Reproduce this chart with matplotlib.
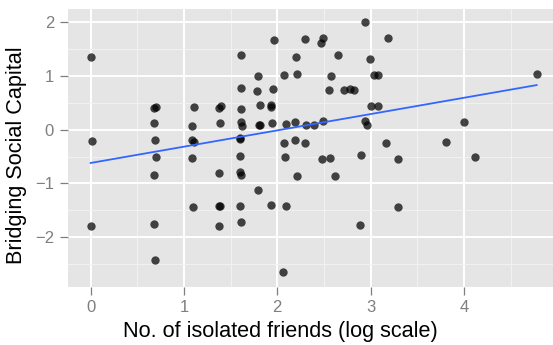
import numpy as np
import matplotlib
matplotlib.use("Agg")
import matplotlib.pyplot as plt
from matplotlib.ticker import MultipleLocator

plt.rcParams['font.family'] = ['Liberation Sans', 'DejaVu Sans']

isolated_log = [
    0.00, 0.01, 0.00,
    0.68, 0.70, 0.68, 0.69, 0.70, 0.68, 0.68, 0.69,
    1.11, 1.09, 1.09, 1.11, 1.09, 1.10,
    1.375, 1.40, 1.39, 1.37, 1.37, 1.39, 1.38,
    1.61, 1.61, 1.61, 1.61, 1.62, 1.60, 1.60, 1.60, 1.60, 1.61, 1.60, 1.61,
    1.79, 1.78, 1.81, 1.80, 1.81, 1.79,
    1.96, 1.95, 1.93, 1.93, 1.94, 1.93,
    2.07, 2.09, 2.07, 2.08, 2.09, 2.06,
    2.20, 2.21, 2.19, 2.19, 2.21,
    2.30, 2.31, 2.30, 2.39,
    2.49, 2.47, 2.49, 2.48, 2.56, 2.58, 2.55, 2.65, 2.62,
    2.71, 2.78, 2.82, 2.90, 2.89,
    2.94, 2.94, 2.96, 2.99, 3.04, 3.08, 3.00, 3.08,
    3.19, 3.16, 3.29, 3.29,
    3.81, 4.00, 4.12, 4.78,
]
bridging = [
    1.35, -0.21, -1.80,
    0.40, 0.42, 0.12, -0.20, -0.50, -0.85, -1.75, -2.42,
    0.42, 0.07, -0.19, -0.22, -0.52, -1.44,
    0.40, 0.44, 0.13, -0.80, -1.43, -1.43, -1.79,
    1.40, 0.78, 0.39, 0.14, 0.06, -0.15, -0.17, -0.49, -0.79, -0.84, -1.42, -1.72,
    1.00, 0.72, 0.46, 0.08, 0.09, -1.13,
    1.67, 0.76, 0.46, 0.42, 0.12, -1.40,
    1.02, 0.10, -0.24, -0.50, -1.43, -2.65,
    1.35, 1.04, 0.14, -0.19, -0.86,
    1.69, 0.08, -0.25, 0.09,
    1.70, 1.62, 0.16, -0.54, -0.53, 1.00, 0.74, 1.40, -0.86,
    0.74, 0.75, 0.74, -0.48, -1.77,
    2.00, 0.16, 0.09, 1.32, 1.02, 1.02, 0.45, 0.44,
    1.70, -0.25, -0.55, -1.44,
    -0.22, 0.14, -0.50, 1.04,
]
x_ticks = [0, 1, 2, 3, 4]
y_ticks = [-2, -1, 0, 1, 2]

x = np.array(isolated_log)
y = np.array(bridging)

W, H = 553, 345
fig = plt.figure(figsize=(W / 100, H / 100), dpi=100)
ax = fig.add_axes([68 / W, 1 - 286.5 / H, (553 - 68) / W, (286.5 - 9) / H])
ax.set_facecolor('#E5E5E5')

ax.scatter(x, y, s=36, color='black', alpha=0.72, linewidths=0, zorder=3)

slope, intercept = np.polyfit(x, y, 1)
xs = np.array([x.min(), x.max()])
ax.plot(xs, intercept + slope * xs, color='#3366FF', lw=1.3, zorder=4)

ax.set_xlim(-0.243, 4.955)
ax.set_ylim(-2.92, 2.248)
ax.set_xticks(x_ticks)
ax.set_yticks(y_ticks)
ax.xaxis.set_minor_locator(MultipleLocator(0.5))
ax.yaxis.set_minor_locator(MultipleLocator(0.5))
ax.grid(which='major', color='white', lw=1.4, zorder=1)
ax.grid(which='minor', color='#F2F2F2', lw=0.7, zorder=1)
ax.set_axisbelow(True)
for s in ax.spines.values():
    s.set_visible(False)
ax.tick_params(which='major', length=6, width=0.9, color='#7F7F7F',
               labelcolor='#7F7F7F', labelsize=12, pad=4)
ax.tick_params(which='minor', length=0)

fig.text(280 / W, 1 - 336.7 / H, 'No. of isolated friends (log scale)',
         fontsize=15.6, color='black', ha='center', va='baseline')
fig.text(17 / W, 1 - 155 / H, 'Bridging Social Capital', rotation=90,
         fontsize=15.6, color='black', ha='center', va='center')

fig.savefig('out.png', dpi=100)
